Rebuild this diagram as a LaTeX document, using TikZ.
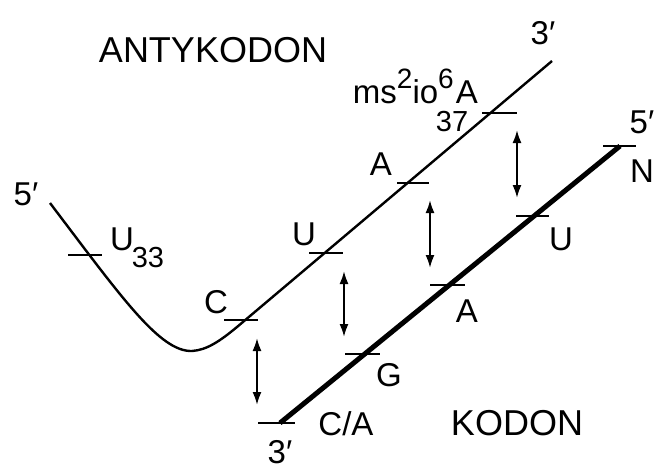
\documentclass[tikz,border=0pt]{standalone}
\usepackage{fontspec}
\setmainfont{Liberation Sans}
\usetikzlibrary{arrows.meta}

\begin{document}
\begin{tikzpicture}[
  x=1pt, y=-1pt,
  lbl/.style={anchor=base, inner sep=0pt, font=\fontsize{33}{36}\selectfont},
  idx/.style={anchor=base, inner sep=0pt, font=\fontsize{29}{32}\selectfont},
  ttl/.style={anchor=base, inner sep=0pt, font=\fontsize{36}{40}\selectfont},
  anti/.style={line width=2.4pt},
  kod/.style={line width=5pt},
  tick/.style={line width=2.4pt},
  pair/.style={{Latex[length=13pt,width=9pt]}-{Latex[length=13pt,width=9pt]}, line width=2pt},
]
\useasboundingbox (0,0) rectangle (659,469);

% strands
\coordinate (a5) at (50,203);
\coordinate (abot) at (192,351);
\coordinate (a3) at (552,61);
\coordinate (k3) at (280,423);
\coordinate (k5) at (620,146);
\draw[anti] (a5) .. controls (122,298) and (160,352) .. (abot)
  .. controls (207,350) and (220,341) .. (237,327) -- (a3);
\draw[kod] (k3) -- (k5);

% nucleotide marks
\foreach \l/\r/\y in {68/102/255, 224/258/320, 309/343/253, 397/429/183,
    482/517/113, 603/636/146, 516/549/216, 430/465/285, 345/380/354, 258/295/423}
  \draw[tick] (\l,\y) -- (\r,\y);

% base pairs
\foreach \n/\x/\t/\b in {1/257/338/405, 2/344/271/337, 3/430/200/268, 4/517/130/198}{
  \coordinate (bp\n t) at (\x,\t);
  \coordinate (bp\n b) at (\x,\b);
  \draw[pair] (bp\n t) -- (bp\n b);
}

% labels
\node[ttl] (antyk) at (213,62) {ANTYKODON};
\node[ttl] (kodon) at (517,435) {KODON};
\node[lbl] (a5lab) at (26,205) {5′};
\node[lbl] (a3lab) at (543,44) {3′};
\node[lbl] (k5lab) at (642,133) {5′};
\node[lbl] (k3lab) at (280,463) {3′};
\node[lbl] (u33) at (122,250) {U};
\node[idx] (u33i) at (148,267) {33};
\node[lbl] (ac) at (216,313) {C};
\node[lbl] (au) at (304,245) {U};
\node[lbl] (aa) at (381,175) {A};
\node[lbl, anchor=base east] (msa) at (478,103)
  {ms\raisebox{15pt}{\fontsize{28}{30}\selectfont 2}io\raisebox{15pt}{\fontsize{28}{30}\selectfont 6}\kern2pt A};
\node[idx] (a37i) at (452,131) {37};
\node[lbl] (kn) at (642,182) {N};
\node[lbl] (ku) at (561,250) {U};
\node[lbl] (ka) at (467,322) {A};
\node[lbl] (kg) at (389,386) {G};
\node[lbl] (kca) at (346,435) {C/A};
\end{tikzpicture}
\end{document}
